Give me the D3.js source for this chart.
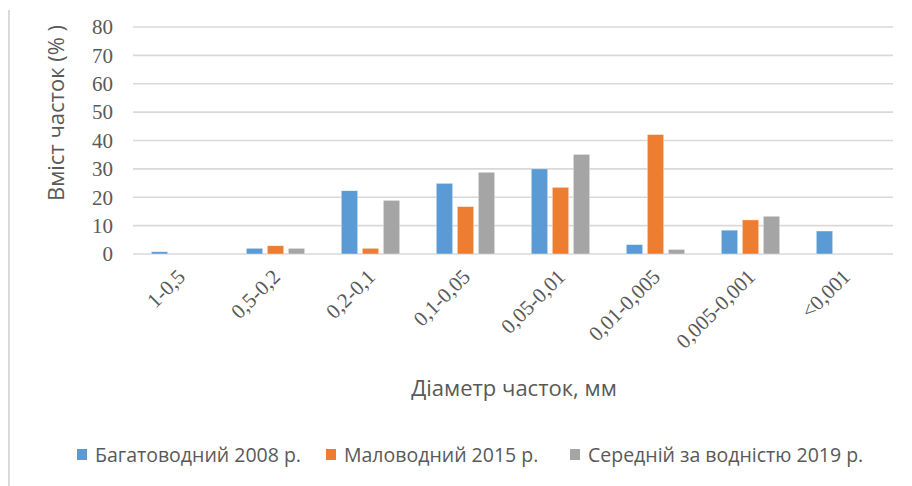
<!DOCTYPE html>
<html><head><meta charset="utf-8">
<script src="https://cdn.jsdelivr.net/npm/d3@7"></script>
<style>body{margin:0;background:#fff}svg{display:block}
.serif{font-family:"Liberation Serif","DejaVu Serif","Times New Roman",serif}
.sans{font-family:"Open Sans","Noto Sans",sans-serif}
</style>
</head><body>
<svg id="c" width="912" height="486"></svg>
<script>
const categories = ["1-0,5","0,5-0,2","0,2-0,1","0,1-0,05","0,05-0,01","0,01-0,005","0,005-0,001","<0,001"];
const seriesNames = ["Багатоводний 2008 р.","Маловодний 2015 р.","Середній за водністю 2019 р."];
const s2008 = [0.8, 2.0, 22.3, 24.9, 30.0, 3.3, 8.4, 8.1];
const s2015 = [0, 2.9, 2.0, 16.7, 23.5, 42.1, 12.0, 0];
const s2019 = [0, 2.0, 18.9, 28.8, 35.1, 1.6, 13.3, 0];
const yTicks = [0,10,20,30,40,50,60,70,80];
const colors = ["#5B9BD5","#ED7D31","#A5A5A5"];
const series = [s2008, s2015, s2019];

(function(){
const svg = d3.select("#c");
const pL = 133, pR = 893, pT = 27, pB = 254;
const x = d3.scaleBand().domain(categories).range([pL, pR]).paddingInner(0.385).paddingOuter(0.1925);
const x1 = d3.scaleBand().domain(d3.range(3)).range([0, x.bandwidth()]).paddingInner(0.22);
const y = d3.scaleLinear().domain([0,80]).range([pB, pT]);

// left border
svg.append("line").attr("x1",9).attr("x2",9).attr("y1",10).attr("y2",486)
  .attr("stroke","#D9D9D9").attr("stroke-width",2);

// gridlines
svg.append("g").selectAll("line").data(yTicks).join("line")
  .attr("x1",pL).attr("x2",pR).attr("y1",d=>y(d)).attr("y2",d=>y(d))
  .attr("stroke","#D9D9D9").attr("stroke-width",1.6);

// y tick labels
svg.append("g").selectAll("text").data(yTicks).join("text")
  .attr("class","serif")
  .attr("x",113).attr("y",d=>y(d)).attr("dy","0.35em").attr("text-anchor","end")
  .attr("font-size",21).attr("fill","#595959").text(d=>d);

// bars
const g = svg.append("g");
series.forEach((s,i)=>{
  g.append("g").selectAll("rect").data(s.map((v,j)=>({v,c:categories[j]}))).join("rect")
    .attr("x",d=>x(d.c)+x1(i)).attr("width",x1.bandwidth())
    .attr("y",d=>y(d.v)).attr("height",d=>y(0)-y(d.v))
    .attr("fill",colors[i]).attr("stroke","#fff").attr("stroke-width",0.6).attr("stroke-opacity",0.6);
});

// x labels
svg.append("g").selectAll("text").data(categories).join("text")
  .attr("class","serif")
  .attr("transform",d=>`translate(${x(d)+x.bandwidth()/2+6},${278}) rotate(-45)`)
  .attr("text-anchor","end")
  .attr("font-size",21).attr("fill","#595959").text(d=>d);

// axis titles
svg.append("text").attr("class","sans").attr("transform","translate(64,113) rotate(-90)").attr("text-anchor","middle")
  .attr("font-size",22).attr("fill","#595959")
  .text("Вміст часток (% )");
svg.append("text").attr("class","sans").attr("x",514).attr("y",396).attr("text-anchor","middle")
  .attr("font-size",22).attr("fill","#595959")
  .text("Діаметр часток, мм");

// legend
const legX = [77, 326, 570];
const lg = svg.append("g");
seriesNames.forEach((n,i)=>{
  lg.append("rect").attr("x",legX[i]).attr("y",449).attr("width",10).attr("height",11).attr("fill",colors[i]);
  lg.append("text").attr("class","sans").attr("x",legX[i]+18).attr("y",462)
    .attr("font-size",19.5).attr("fill","#595959")
    .text(n);
});
})();
</script>
</body></html>
